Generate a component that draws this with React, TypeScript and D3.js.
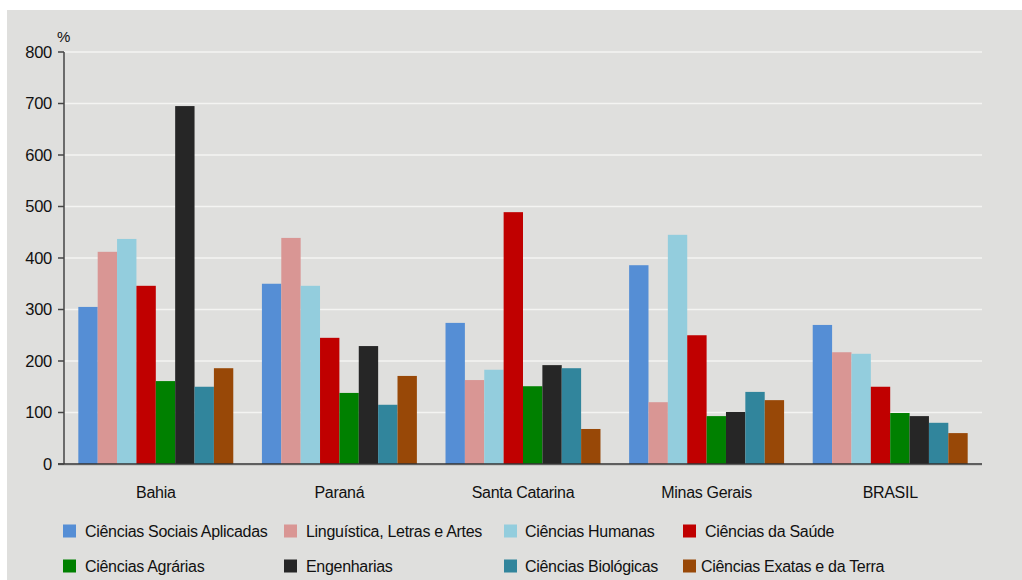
import React from "react";
import * as d3 from "d3";

const categories = ["Bahia", "Paraná", "Santa Catarina", "Minas Gerais", "BRASIL"];
const seriesNames = [
  "Ciências Sociais Aplicadas",
  "Linguística, Letras e Artes",
  "Ciências Humanas",
  "Ciências da Saúde",
  "Ciências Agrárias",
  "Engenharias",
  "Ciências Biológicas",
  "Ciências Exatas e da Terra",
];
const seriesColors = ["#558ed5", "#d99694", "#93cddd", "#c00000", "#008000", "#262626", "#31859c", "#984807"];
// values per series, across categories
const sociaisAplicadas = [305, 350, 274, 386, 270];
const linguistica = [412, 439, 163, 120, 217];
const humanas = [437, 346, 183, 445, 214];
const saude = [346, 245, 489, 250, 150];
const agrarias = [161, 138, 151, 93, 99];
const engenharias = [695, 229, 192, 101, 93];
const biologicas = [150, 115, 186, 140, 80];
const exatas = [186, 171, 68, 124, 60];
const seriesValues = [sociaisAplicadas, linguistica, humanas, saude, agrarias, engenharias, biologicas, exatas];
const yTicks = [0, 100, 200, 300, 400, 500, 600, 700, 800];

export default function App() {
  const W = 1022, H = 580;
  const left = 64, right = 982, top = 52, bottom = 464;
  const x0 = d3.scaleBand<string>().domain(categories).range([left, right]).paddingInner(0.156).paddingOuter(0.078);
  const x1 = d3.scaleBand<number>().domain(d3.range(seriesNames.length)).range([0, x0.bandwidth()]);
  const y = d3.scaleLinear().domain([0, 800]).range([bottom, top]);
  const font = "'Liberation Sans', Arial, sans-serif";

  const legendCols = [63, 284, 504, 683];
  const legendTextX = [85, 306, 525, 705];
  const legendRows = [531, 566];

  return (
    <svg width={W} height={H} style={{ position: "absolute", left: 0, top: 0 }} fontFamily={font} letterSpacing="-0.3px">
      <rect x={7} y={10} width={W - 7} height={H - 10} fill="#dfdfdd" />
      {yTicks.filter((t) => t > 0).map((t) => (
        <line key={t} x1={left} x2={right} y1={y(t)} y2={y(t)} stroke="#f4f4f2" strokeWidth={1.6} />
      ))}
      {categories.map((c, ci) =>
        seriesValues.map((vals, si) => (
          <rect
            key={c + si}
            x={(x0(c) as number) + (x1(si) as number)}
            y={y(vals[ci])}
            width={x1.bandwidth()}
            height={bottom - y(vals[ci])}
            fill={seriesColors[si]}
          />
        ))
      )}
      <line x1={left} x2={left} y1={top} y2={bottom} stroke="#444" strokeWidth={1.5} />
      <line x1={left - 6} x2={right} y1={bottom + 1.5} y2={bottom + 1.5} stroke="#c8c8c6" strokeWidth={1} />
      <line x1={left - 6} x2={right} y1={bottom} y2={bottom} stroke="#333" strokeWidth={1.5} />
      {yTicks.map((t) => (
        <g key={t}>
          <line x1={left - 6} x2={left} y1={y(t)} y2={y(t)} stroke="#444" strokeWidth={1.5} />
          <text x={52} y={y(t)} dy="0.36em" textAnchor="end" fontSize={16.5} fill="#111">
            {t}
          </text>
        </g>
      ))}
      <text x={57} y={42} fontSize={15} fill="#111">%</text>
      {categories.map((c) => (
        <text key={c} x={(x0(c) as number) + x0.bandwidth() / 2} y={498} textAnchor="middle" fontSize={16} fill="#111">
          {c}
        </text>
      ))}
      {seriesNames.map((n, i) => {
        const col = i % 4;
        const row = Math.floor(i / 4);
        const tx = row === 1 && col === 3 ? 701 : legendTextX[col];
        return (
          <g key={n}>
            <rect x={legendCols[col]} y={legendRows[row] - 6.5} width={13} height={13} fill={seriesColors[i]} />
            <text x={tx} y={legendRows[row]} dy="0.36em" fontSize={16} fill="#111">
              {n}
            </text>
          </g>
        );
      })}
    </svg>
  );
}
